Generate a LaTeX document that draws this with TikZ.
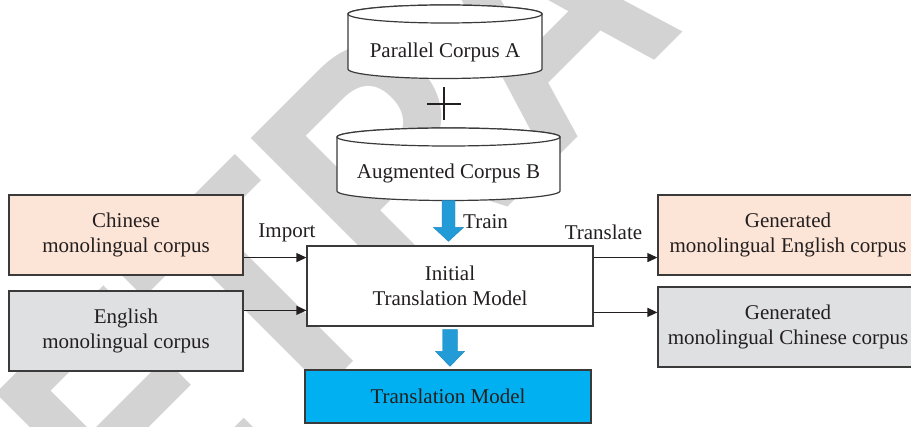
\documentclass[tikz,border=0pt]{standalone}
\usepackage{fontspec}
\setmainfont{Liberation Serif}
\newfontfamily\markfont{Liberation Sans}
\usetikzlibrary{arrows.meta,calc}
\definecolor{ink}{HTML}{231F20}
\definecolor{peach}{HTML}{FCE4D6}
\definecolor{paleGray}{HTML}{DFE0E2}
\definecolor{cyanBox}{HTML}{00B0F0}
\definecolor{arrowBlue}{HTML}{239BD6}
\definecolor{arrowEdge}{HTML}{1C87C2}
\definecolor{frame}{HTML}{3A3A3A}
\definecolor{stamp}{HTML}{D3D3D3}

\tikzset{
  box/.style={draw=frame, line width=1.2pt, minimum height=80pt, align=center,
    text=ink, inner sep=0pt},
  lbl/.style={text=ink, inner sep=0pt},
  link/.style={draw=ink, line width=1.2pt, -{Triangle[length=10pt,width=9pt]}},
  fat/.style={fill=arrowBlue, draw=arrowEdge, line width=0.4pt},
  drum/.style={draw=frame, fill=white, line width=1.2pt},
}

\begin{document}
\begin{tikzpicture}[x=1pt, y=1pt, font=\fontsize{21}{25.5}\selectfont]
\useasboundingbox (0,0) rectangle (911,-427);

% diagonal stamp behind the chart
\begin{scope}
  \clip (0,0) rectangle (911,-427);
  \node[text=stamp, inner sep=0pt, anchor=base, rotate=45, xscale=0.88, yscale=1.045,
        font=\markfont\bfseries\fontsize{320}{320}\selectfont]
    (stampText) at (616,-99) {RETRACTED};
\end{scope}

% corpus drums
\path[drum] (348,-14) -- (348,-69)
  arc[start angle=180, end angle=360, x radius=97, y radius=9.5]
  -- (542,-14) arc[start angle=0, end angle=180, x radius=97, y radius=9] -- cycle;
\draw[drum] (445,-14) ellipse[x radius=97, y radius=9];
\node[lbl] (cylA) at (445,-52) {Parallel Corpus A};

\draw[ink, line width=1.5pt] (427,-104) -- (461,-104) (444,-87.5) -- (444,-120.5);

\path[drum] (337,-137) -- (337,-191)
  arc[start angle=180, end angle=360, x radius=111.5, y radius=9.5]
  -- (560,-137) arc[start angle=0, end angle=180, x radius=111.5, y radius=9] -- cycle;
\draw[drum] (448.5,-137) ellipse[x radius=111.5, y radius=9];
\node[lbl] (cylB) at (448.5,-173) {Augmented Corpus B};
\coordinate (cylBbot) at (448.5,-200.5);

% boxes
\node[box, fill=peach, minimum width=234pt] (chin) at (126,-235) {Chinese\\monolingual corpus};
\node[box, fill=paleGray, minimum width=234pt] (eng) at (126,-331) {English\\monolingual corpus};
\node[box, fill=white, minimum width=286pt] (init) at (450,-286) {Initial\\Translation Model};
\node[box, fill=cyanBox, minimum width=286pt, minimum height=53pt] (tm) at (448,-396.5) {Translation Model};
\node[box, fill=peach, minimum width=260pt] (genEn) at (788,-235) {Generated\\monolingual English corpus};
\node[box, fill=paleGray, minimum width=260pt] (genZh) at (788,-327) {Generated\\monolingual Chinese corpus};

% training arrows
\path[fat] let \p1=(cylBbot), \p2=(init.north) in
  (\x1-6.5pt,\y1) -- (\x1-6.5pt,\y2+18pt) -- (\x1-15pt,\y2+18pt) -- (\x1,\y2+4pt)
  -- (\x1+15pt,\y2+18pt) -- (\x1+6.5pt,\y2+18pt) -- (\x1+6.5pt,\y1) -- cycle;
\path[fat] let \p1=(init.south), \p2=(tm.north) in
  (\x1-7.5pt,\y1-3pt) -- (\x1-7.5pt,\y2+18pt) -- (\x1-14.5pt,\y2+18pt) -- (\x1,\y2+3pt)
  -- (\x1+14.5pt,\y2+18pt) -- (\x1+7.5pt,\y2+18pt) -- (\x1+7.5pt,\y1-3pt) -- cycle;
\node[lbl, anchor=west] (train) at (463,-222) {Train};

% import / translate connectors
\coordinate (inA) at ($(init.north west)!0.15!(init.south west)$);
\coordinate (inB) at ($(init.north west)!0.8!(init.south west)$);
\coordinate (outA) at ($(init.north east)!0.15!(init.south east)$);
\coordinate (outB) at ($(init.north east)!0.825!(init.south east)$);
\draw[link] (chin.east |- inA) -- (inA);
\draw[link] (eng.east |- inB) -- (inB);
\draw[link] (outA) -- (genEn.west |- outA);
\draw[link] (outB) -- (genZh.west |- outB);
\node[lbl] (import) at (287,-233) {Import};
\node[lbl] (translate) at (603.5,-232) {Translate};
\end{tikzpicture}
\end{document}
